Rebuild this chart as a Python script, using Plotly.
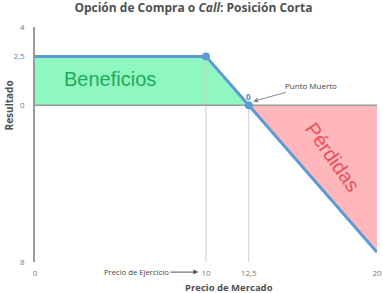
import plotly.graph_objects as go

# Data
precio_mercado = [0, 10, 12.5, 20]
resultado = [2.5, 2.5, 0, -7.5]
precio_ejercicio = 10
punto_muerto = 12.5
prima = 2.5

x_tickvals = [0, 10, 12.5, 20]
x_ticktext = ["0", "10", "12,5", "20"]
y_tickvals = [4, 2.5, 0, -8]
y_ticktext = ["4", "<span style='color:#4a86c8'>2,5</span>", "0", "8"]

BLUE = "#5b9bd5"
GREEN_FILL = "#8ff7c0"
RED_FILL = "#ffb7bc"

fig = go.Figure()

# Benefit area
fig.add_trace(go.Scatter(
    x=[0] + precio_mercado[:3] + [0],
    y=[0] + resultado[:3] + [0],
    fill="toself", fillcolor=GREEN_FILL, mode="none", hoverinfo="skip"))
# Loss area
fig.add_trace(go.Scatter(
    x=precio_mercado[2:] + [precio_mercado[3], precio_mercado[2]],
    y=resultado[2:] + [0, 0],
    fill="toself", fillcolor=RED_FILL, mode="none", hoverinfo="skip"))

# Drop lines
for xv, yv in [(precio_ejercicio, prima), (punto_muerto, 0)]:
    fig.add_trace(go.Scatter(x=[xv, xv], y=[-8, yv], mode="lines",
                             line=dict(color="#cfcfcf", width=1), hoverinfo="skip"))

# Zero line
fig.add_trace(go.Scatter(x=[0, 20], y=[0, 0], mode="lines",
                         line=dict(color="#9a9a9a", width=1.5), hoverinfo="skip"))

# Payoff line
fig.add_trace(go.Scatter(x=precio_mercado, y=resultado, mode="lines",
                         line=dict(color=BLUE, width=3)))
fig.add_trace(go.Scatter(x=precio_mercado[1:3], y=resultado[1:3], mode="markers",
                         marker=dict(color=BLUE, size=8)))

fig.update_layout(
    width=383, height=293,
    margin=dict(l=35, r=6, t=27, b=31),
    paper_bgcolor="white", plot_bgcolor="white",
    showlegend=False,
    font=dict(family="Open Sans", size=8, color="#666666"),
    title=dict(text="Opción de Compra o <i>Call</i>: Posición Corta",
               x=0.505, xanchor="center", y=0.975, yanchor="middle",
               font=dict(family="Open Sans", size=12, color="#505050", weight="bold")),
)

fig.update_xaxes(range=[0, 20], tickvals=x_tickvals, ticktext=x_ticktext,
                 showgrid=False, zeroline=False, showline=False, ticks="",
                 ticklabelstandoff=5, automargin=False,
                 tickfont=dict(size=8, color="#777777"))
fig.update_yaxes(range=[-8, 4], tickvals=y_tickvals, ticktext=y_ticktext,
                 showgrid=False, zeroline=False, showline=True,
                 linecolor="#9a9a9a", linewidth=1.5, ticks="",
                 ticklabelstandoff=7, automargin=False,
                 tickfont=dict(size=8, color="#777777"))

# Axis titles
fig.add_annotation(text="<b>Resultado</b>", xref="paper", yref="paper",
                   x=-0.077, xanchor="center", y=0.665, yanchor="middle",
                   showarrow=False, textangle=-90,
                   font=dict(size=10, color="#505050"))
fig.add_annotation(text="<b>Precio de Mercado</b>", xref="paper", yref="paper",
                   x=0.567, xanchor="center", y=-0.107, yanchor="middle",
                   showarrow=False,
                   font=dict(size=9.5, color="#505050"))

# Region labels
fig.add_annotation(text="Beneficios", x=4.4, y=1.33, showarrow=False,
                   font=dict(family="Liberation Sans", size=20, color="#1faa5a"))
fig.add_annotation(text="Pérdidas", x=17.4, y=-2.65, showarrow=False, textangle=55,
                   font=dict(family="Liberation Sans", size=20, color="#e8505b"))

# Point labels
fig.add_annotation(text="<b>0</b>", x=punto_muerto, y=0.45, showarrow=False,
                   font=dict(size=8, color="#4a86c8"))
fig.add_annotation(text="Punto Muerto", x=12.75, y=0.2, ax=58, ay=-16,
                   showarrow=True, arrowhead=2, arrowsize=1, arrowwidth=1,
                   arrowcolor="#888888", font=dict(size=8, color="#444444"))
fig.add_annotation(text="Precio de Ejercicio", x=9.55, xref="x", y=-0.043, yref="paper",
                   ax=-62, ay=0, showarrow=True, arrowhead=2, arrowsize=1,
                   arrowwidth=1, arrowcolor="#555555",
                   font=dict(size=7.7, color="#444444"))

fig.write_html("out.html")
